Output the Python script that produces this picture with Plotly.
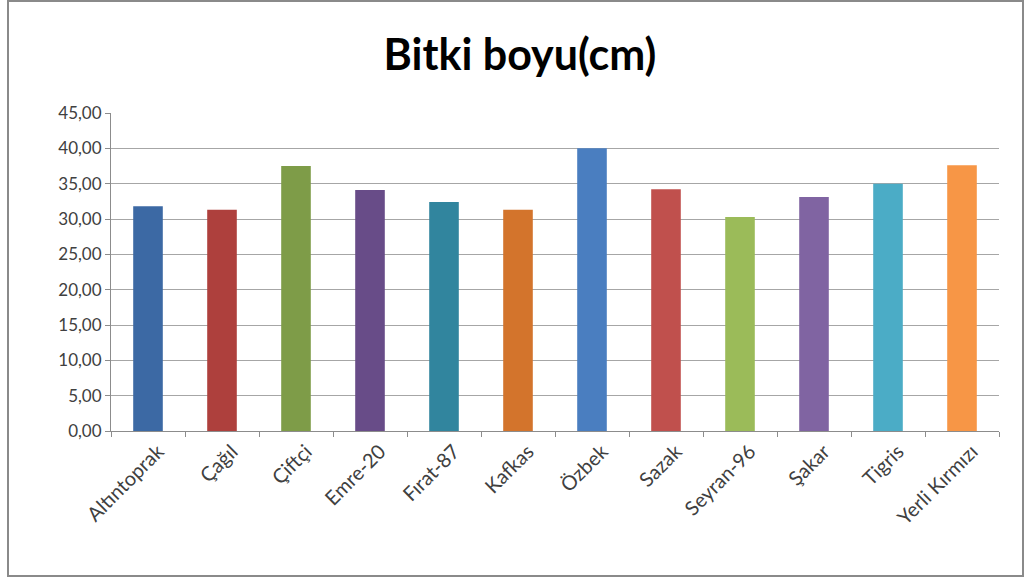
import plotly.graph_objects as go

categories = ["Altıntoprak", "Çağıl", "Çiftçi", "Emre-20", "Fırat-87", "Kafkas",
              "Özbek", "Sazak", "Seyran-96", "Şakar", "Tigris", "Yerli Kırmızı"]
values = [31.8, 31.3, 37.5, 34.1, 32.4, 31.3, 40.0, 34.2, 30.3, 33.1, 35.0, 37.6]
colors = ["#3C69A4", "#AE403D", "#7E9C48", "#684C88", "#31859E", "#D3742C",
          "#4A7EC0", "#C0504D", "#9BBB59", "#8064A2", "#4BACC6", "#F79646"]
y_ticks = [0, 5, 10, 15, 20, 25, 30, 35, 40, 45]
y_tick_labels = ["0,00", "5,00", "10,00", "15,00", "20,00", "25,00",
                 "30,00", "35,00", "40,00", "45,00"]

W, H = 1025, 581
L, R, T, B = 111, 26, 113, 150
pw, ph = W - L - R, H - T - B

fig = go.Figure(go.Bar(x=categories, y=values, marker=dict(color=colors, line=dict(width=0)),
                       width=0.4))

font = "Lato, 'Open Sans', sans-serif"
fig.update_layout(
    width=W, height=H,
    margin=dict(l=L, r=R, t=T, b=B),
    paper_bgcolor="white", plot_bgcolor="white",
    showlegend=False,
    title=dict(text="<b>Bitki boyu(cm)</b>", x=520 / W, xanchor="center",
               xref="container", y=1 - 55 / H, yanchor="middle", yref="container",
               font=dict(family=font, size=43, color="#000000")),
    xaxis=dict(tickangle=-45, tickfont=dict(family=font, size=20, color="#404040"),
               showline=True, linecolor="#8C8C8C", linewidth=1,
               ticks="outside", ticklen=5, tickcolor="#8C8C8C", tickson="boundaries",
               ticklabelshift=10,
               showgrid=False, range=[-0.5, 11.5]),
    yaxis=dict(range=[0, 45], tickvals=y_ticks, ticktext=y_tick_labels,
               tickfont=dict(family=font, size=17, color="#404040"),
               showline=True, linecolor="#8C8C8C", linewidth=1,
               ticks="outside", ticklen=5, tickcolor="#8C8C8C",
               showgrid=True, gridcolor="#A6A6A6", gridwidth=1, zeroline=False),
    shapes=[dict(type="rect", xref="paper", yref="paper",
                 x0=(8 - L) / pw, x1=(1023 - L) / pw,
                 y0=(H - B - 576) / ph, y1=(H - B - 1) / ph,
                 line=dict(color="#8A8A8A", width=2), fillcolor="rgba(0,0,0,0)",
                 layer="below")],
)

fig.write_html("out.html")
